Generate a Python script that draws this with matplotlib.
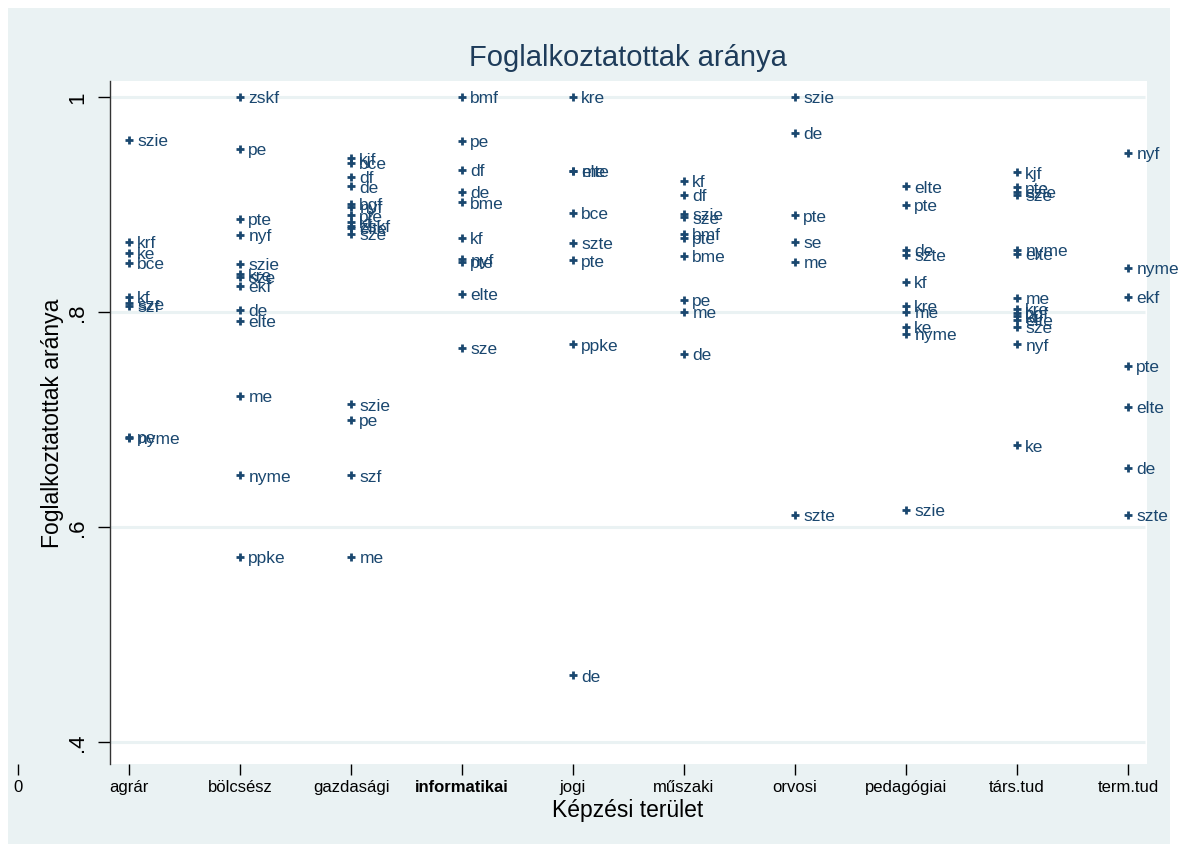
#!/usr/bin/env python3
"""Foglalkoztatottak aránya képzési terület szerint (Stata-style labelled scatter)."""

import matplotlib

matplotlib.use("Agg")
import matplotlib.pyplot as plt
import matplotlib.transforms as mtransforms
from matplotlib.patches import Rectangle

plt.rcParams["font.family"] = ["Liberation Sans", "DejaVu Sans"]

NAVY = "#1a476f"
BLUISH = "#eaf2f3"

categories = ["agrár", "bölcsész", "gazdasági", "informatikai", "jogi",
              "műszaki", "orvosi", "pedagógiai", "társ.tud", "term.tud"]

agrar_labels = ["szie", "krf", "ke", "bce", "kf", "sze", "szf", "pe", "nyme"]
agrar_values = [0.960, 0.865, 0.855, 0.846, 0.814, 0.808, 0.806, 0.684, 0.683]

bolcsesz_labels = ["zskf", "pe", "pte", "nyf", "szie", "kre", "sze", "ekf",
                   "de", "elte", "me", "nyme", "ppke"]
bolcsesz_values = [1.000, 0.952, 0.887, 0.872, 0.845, 0.835, 0.833, 0.824,
                   0.802, 0.792, 0.722, 0.648, 0.572]

gazdasagi_labels = ["kjf", "bce", "df", "de", "bgf", "nyf", "pte", "kf", "zskf",
                    "elte", "sze", "szie", "pe", "szf", "me"]
gazdasagi_values = [0.943, 0.939, 0.926, 0.917, 0.901, 0.898, 0.890, 0.884, 0.880,
                    0.878, 0.873, 0.714, 0.700, 0.648, 0.572]

informatikai_labels = ["bmf", "pe", "df", "de", "bme", "kf", "nyf", "pte", "elte", "sze"]
informatikai_values = [1.000, 0.959, 0.932, 0.912, 0.902, 0.869, 0.849, 0.847, 0.817, 0.767]

jogi_labels = ["kre", "elte", "me", "bce", "szte", "pte", "ppke", "de"]
jogi_values = [1.000, 0.931, 0.931, 0.892, 0.864, 0.848, 0.770, 0.462]

muszaki_labels = ["kf", "df", "szie", "sze", "bmf", "pte", "bme", "pe", "me", "de"]
muszaki_values = [0.922, 0.909, 0.891, 0.888, 0.873, 0.869, 0.852, 0.811, 0.800, 0.761]

orvosi_labels = ["szie", "de", "pte", "se", "me", "szte"]
orvosi_values = [1.000, 0.967, 0.890, 0.865, 0.847, 0.611]

pedagogiai_labels = ["elte", "pte", "de", "szte", "kf", "kre", "me", "ke", "nyme", "szie"]
pedagogiai_values = [0.917, 0.900, 0.858, 0.853, 0.828, 0.806, 0.800, 0.786, 0.780, 0.616]

tarstud_labels = ["kjf", "pte", "szie", "sze", "nyme", "elte", "me", "kre", "bgf",
                  "kf", "elte", "sze", "nyf", "ke"]
tarstud_values = [0.930, 0.916, 0.912, 0.909, 0.858, 0.854, 0.813, 0.803, 0.799,
                  0.796, 0.793, 0.786, 0.770, 0.676]

termtud_labels = ["nyf", "nyme", "ekf", "pte", "elte", "de", "szte"]
termtud_values = [0.948, 0.841, 0.814, 0.750, 0.712, 0.655, 0.611]

series_labels = [agrar_labels, bolcsesz_labels, gazdasagi_labels, informatikai_labels,
                 jogi_labels, muszaki_labels, orvosi_labels, pedagogiai_labels,
                 tarstud_labels, termtud_labels]
series_values = [agrar_values, bolcsesz_values, gazdasagi_values, informatikai_values,
                 jogi_values, muszaki_values, orvosi_values, pedagogiai_values,
                 tarstud_values, termtud_values]

y_ticks = [0.4, 0.6, 0.8, 1.0]
y_ticklabels = [".4", ".6", ".8", "1"]


def main() -> None:
    W, H = 1179, 854
    fig = plt.figure(figsize=(W / 100, H / 100), dpi=100, facecolor="white")

    # graph region (light bluish gray panel) as a background axes
    bg = fig.add_axes([8 / W, 9 / H, (1170 - 8) / W, (845 - 9) / H], zorder=-5)
    bg.set_facecolor(BLUISH)
    bg.set_xticks([])
    bg.set_yticks([])
    for sp in bg.spines.values():
        sp.set_visible(False)

    # axes span from the "0" tick to the right edge of the plot region
    left_px, right_px, top_px, bot_px = 10, 1147, 82, 765
    ax = fig.add_axes([left_px / W, 1 - bot_px / H,
                       (right_px - left_px) / W, (bot_px - top_px) / H])
    ax.patch.set_alpha(0)

    x0_px, step_px = 18, 111.0
    xmin = (left_px - x0_px) / step_px
    xmax = (right_px - x0_px) / step_px
    plot_left = (110 - x0_px) / step_px
    ax.set_xlim(xmin, xmax)
    ax.set_ylim(0.3795, 1.015)

    # white plot region
    trans = mtransforms.blended_transform_factory(ax.transData, ax.transAxes)
    ax.add_patch(Rectangle((plot_left, 0), xmax - plot_left, 1, transform=trans,
                           facecolor="white", edgecolor="none", zorder=0))

    ax.hlines(y_ticks, plot_left, xmax - 0.02, colors=BLUISH, linewidth=2.2, zorder=1)

    for i, (labs, vals) in enumerate(zip(series_labels, series_values), start=1):
        xs = [i] * len(vals)
        ax.plot(xs, vals, linestyle="none", marker="+", markersize=6,
                markeredgewidth=2, color=NAVY, zorder=3)
        for lab, v in zip(labs, vals):
            ax.annotate(lab, (i, v), textcoords="offset points", xytext=(6, -0.5),
                        ha="left", va="center", fontsize=12.5, color=NAVY, zorder=4)

    for side in ("top", "right", "bottom"):
        ax.spines[side].set_visible(False)
    ax.spines["left"].set_position(("data", plot_left))
    ax.spines["left"].set_color("#333333")
    ax.spines["left"].set_linewidth(1.0)

    ax.set_yticks(y_ticks)
    ax.set_yticklabels(y_ticklabels, rotation=90, va="center", fontsize=16)
    ax.tick_params(axis="y", length=9, width=1, pad=7)

    ax.set_xticks(range(0, len(categories) + 1))
    ax.set_xticklabels(["0"] + categories, fontsize=12)
    ax.get_xticklabels()[4].set_fontweight("bold")
    ax.tick_params(axis="x", length=8, width=1, pad=3)

    ax.set_xlabel("Képzési terület", fontsize=16.5, labelpad=0)
    ax.xaxis.set_label_coords(((628 - left_px) / (right_px - left_px)), -0.05)
    ax.set_ylabel("Foglalkoztatottak aránya", fontsize=16.5)
    ax.yaxis.set_label_coords((64 - left_px) / (right_px - left_px), 0.5)

    fig.text(628 / W, 1 - 58 / H, "Foglalkoztatottak aránya", ha="center",
             va="center", fontsize=21, color="#1e3c5a")

    fig.savefig("out.png", dpi=100, facecolor="white")


if __name__ == "__main__":
    main()
